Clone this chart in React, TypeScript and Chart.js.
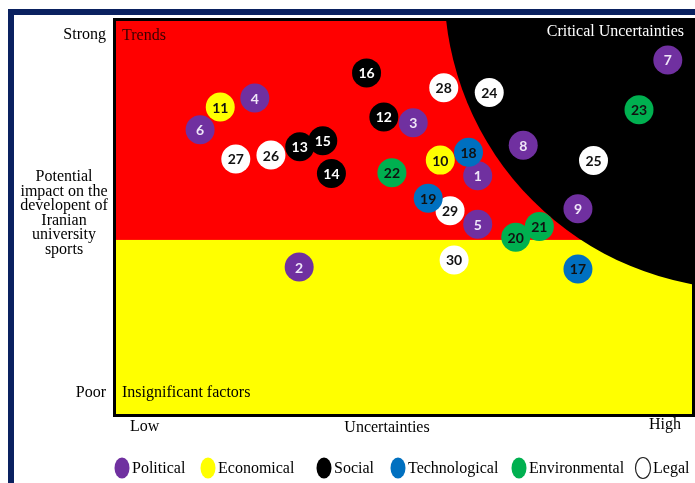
import { useEffect, useRef } from "react";
import { Chart, registerables } from "chart.js";

Chart.register(...registerables);

// ---------- data ----------
const groupNames = ["Political", "Economical", "Social", "Technological", "Environmental", "Legal"];
const groupColors = ["#7030A0", "#FFFF00", "#000000", "#0070C0", "#00B050", "#FFFFFF"];
const groupTextColors = ["#EFE6F7", "#111111", "#FFFFFF", "#111111", "#111111", "#111111"];
const drawOrder = [3, 0, 1, 2, 4, 5];

const factorIds = [
  1, 2, 3, 4, 5, 6, 7, 8, 9, 10, 11, 12, 13, 14, 15,
  16, 17, 18, 19, 20, 21, 22, 23, 24, 25, 26, 27, 28, 29, 30,
];
const factorGroup = [
  0, 0, 0, 0, 0, 0, 0, 0, 0, 1, 1, 2, 2, 2, 2,
  2, 3, 3, 3, 4, 4, 4, 4, 5, 5, 5, 5, 5, 5, 5,
];
const uncertainty = [
  6.28, 3.18, 5.16, 2.41, 6.28, 1.46, 9.58, 7.07, 8.02, 5.63, 1.81, 4.65, 3.19, 3.74, 3.59,
  4.35, 8.02, 6.12, 5.42, 6.94, 7.35, 4.79, 9.08, 6.48, 8.29, 2.69, 2.08, 5.69, 5.80, 5.87,
];
const impact = [
  6.06, 3.74, 7.41, 8.04, 4.83, 7.23, 9.01, 6.84, 5.22, 6.46, 7.81, 7.56, 6.80, 6.12, 6.95,
  8.68, 3.69, 6.66, 5.49, 4.50, 4.77, 6.14, 7.74, 8.18, 6.45, 6.59, 6.49, 8.30, 5.17, 3.92,
];

const axisMin = 0;
const axisMax = 10;
const impactThreshold = 4.43;
const criticalCenter = [10.94, 10.86];
const criticalRadius = [5.24, 7.68];

const yTickLabels = ["Strong", "Poor"];
const xTickLabels = ["Low", "Uncertainties", "High"];
const yTitleLines = ["Potential", "impact on the", "developent of", "Iranian", "university", "sports"];
const regionLabels = ["Trends", "Critical Uncertainties", "Insignificant factors"];

// ---------- helpers ----------
const SERIF = '"Liberation Serif", "Times New Roman", serif';
const NAVY = "#0A2160";

const legendX = [122, 208, 324, 398, 519, 643];

const quadrantPlugin = {
  id: "quadrants",
  beforeDraw(chart: any) {
    const { ctx, width, height } = chart;
    ctx.save();
    ctx.fillStyle = "#FFFFFF";
    ctx.fillRect(0, 0, width, height);
    ctx.fillStyle = NAVY;
    ctx.fillRect(8, 9, width - 8, 6);
    ctx.fillRect(8, 9, 6, height - 9);
    ctx.restore();
  },
  beforeDatasetsDraw(chart: any) {
    const { ctx, chartArea: a } = chart;
    const xs = chart.scales.x;
    const ys = chart.scales.y;
    const w = a.right - a.left;
    const h = a.bottom - a.top;
    ctx.save();
    ctx.beginPath();
    ctx.rect(a.left, a.top, w, h);
    ctx.clip();
    ctx.fillStyle = "#FFFF00";
    ctx.fillRect(a.left, a.top, w, h);
    const ty = ys.getPixelForValue(impactThreshold);
    ctx.fillStyle = "#FF0000";
    ctx.fillRect(a.left, a.top, w, ty - a.top);
    const cx = xs.getPixelForValue(criticalCenter[0]);
    const cy = ys.getPixelForValue(criticalCenter[1]);
    const rx = cx - xs.getPixelForValue(criticalCenter[0] - criticalRadius[0]);
    const ry = ys.getPixelForValue(criticalCenter[1] - criticalRadius[1]) - cy;
    ctx.fillStyle = "#000000";
    ctx.beginPath();
    ctx.ellipse(cx, cy, rx, ry, 0, 0, Math.PI * 2);
    ctx.fill();

    ctx.font = `16px ${SERIF}`;
    ctx.textBaseline = "middle";
    ctx.textAlign = "left";
    ctx.fillStyle = "#3A0000";
    ctx.fillText(regionLabels[0], a.left + 6, a.top + 15);
    ctx.fillStyle = "#FFFFFF";
    ctx.textAlign = "right";
    ctx.fillText(regionLabels[1], a.right - 8, a.top + 11);
    ctx.fillStyle = "#000000";
    ctx.textAlign = "left";
    ctx.fillText(regionLabels[2], a.left + 6, a.bottom - 21);
    ctx.restore();
  },
  afterDatasetsDraw(chart: any) {
    const { ctx } = chart;
    ctx.save();
    ctx.font = 'bold 14px Lato, "Open Sans", sans-serif';
    ctx.textAlign = "center";
    ctx.textBaseline = "middle";
    chart.data.datasets.forEach((ds: any, di: number) => {
      const meta = chart.getDatasetMeta(di);
      meta.data.forEach((el: any, i: number) => {
        ctx.fillStyle = ds.labelColor;
        ctx.fillText(String(ds.ids[i]), el.x, el.y + 1);
      });
    });
    ctx.restore();
  },
  afterDraw(chart: any) {
    const { ctx, chartArea: a } = chart;
    ctx.save();
    // plot border
    ctx.strokeStyle = "#000000";
    ctx.lineWidth = 3;
    ctx.strokeRect(a.left - 1.5, a.top - 1.5, a.right - a.left + 3, a.bottom - a.top + 3);

    ctx.fillStyle = "#000000";
    ctx.font = `16px ${SERIF}`;
    ctx.textBaseline = "middle";
    // y tick labels
    ctx.textAlign = "right";
    ctx.fillText(yTickLabels[0], a.left - 10, a.top + 14);
    ctx.fillText(yTickLabels[1], a.left - 10, a.bottom - 21);
    // y title
    ctx.textAlign = "center";
    yTitleLines.forEach((line, i) => {
      ctx.fillText(line, 64, 177 + i * 14.5);
    });
    // x tick labels
    ctx.textAlign = "left";
    ctx.fillText(xTickLabels[0], a.left + 14, a.bottom + 13);
    ctx.textAlign = "center";
    ctx.fillText(xTickLabels[1], 387, a.bottom + 14);
    ctx.textAlign = "right";
    ctx.fillText(xTickLabels[2], a.right - 11, a.bottom + 11);

    // legend
    const ly = 468;
    groupNames.forEach((name, gi) => {
      const mx = legendX[gi];
      ctx.beginPath();
      ctx.ellipse(mx, ly, 7.5, 10.5, 0, 0, Math.PI * 2);
      if (gi === 5) {
        ctx.strokeStyle = "#222222";
        ctx.lineWidth = 1.2;
        ctx.stroke();
      } else {
        ctx.fillStyle = groupColors[gi];
        ctx.fill();
      }
      ctx.fillStyle = "#000000";
      ctx.textAlign = "left";
      ctx.fillText(name, mx + 10, ly + 1);
    });
    ctx.restore();
  },
};

export default function App() {
  const canvasRef = useRef<HTMLCanvasElement | null>(null);

  useEffect(() => {
    if (!canvasRef.current) return;
    const datasets = drawOrder.map((gi) => {
      const idx = factorIds.map((_, i) => i).filter((i) => factorGroup[i] === gi);
      return {
        label: groupNames[gi],
        ids: idx.map((i) => factorIds[i]),
        labelColor: groupTextColors[gi],
        data: idx.map((i) => ({ x: uncertainty[i], y: impact[i] })),
        backgroundColor: groupColors[gi],
        borderWidth: 0,
        pointRadius: 14.5,
        pointHoverRadius: 14.5,
      };
    });
    const chart = new Chart(canvasRef.current, {
      type: "scatter",
      data: { datasets } as any,
      options: {
        responsive: false,
        animation: false,
        devicePixelRatio: 1,
        events: [],
        layout: { autoPadding: false, padding: { left: 116, top: 21, right: 3, bottom: 69 } },
        scales: {
          x: { type: "linear", min: axisMin, max: axisMax, display: false },
          y: { type: "linear", min: axisMin, max: axisMax, display: false },
        },
        plugins: {
          legend: { display: false },
          tooltip: { enabled: false },
        },
      },
      plugins: [quadrantPlugin],
    });
    return () => chart.destroy();
  }, []);

  return (
    <div style={{ position: "fixed", left: 0, top: 0, width: 695, height: 483, background: "#fff" }}>
      <canvas ref={canvasRef} width={695} height={483} style={{ display: "block" }} />
    </div>
  );
}
